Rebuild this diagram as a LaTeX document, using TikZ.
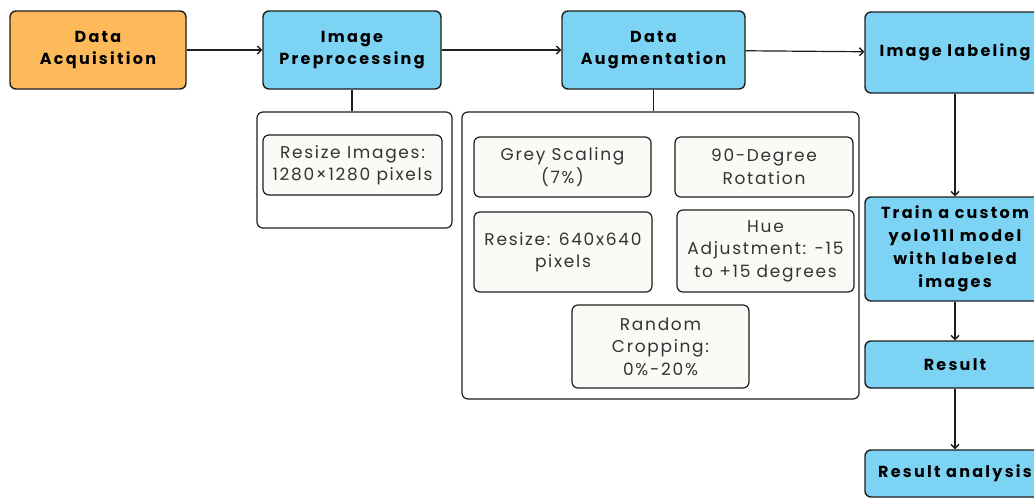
\documentclass[tikz,border=0pt]{standalone}
\usepackage{fontspec}
\setmainfont{Poppins}
\newfontfamily\headfont[LetterSpace=14]{Poppins}
\newfontfamily\optfont[LetterSpace=10]{Poppins}
\usetikzlibrary{arrows.meta}
\definecolor{acqorange}{HTML}{FDB95A}
\definecolor{stepblue}{HTML}{7DD3F4}
\definecolor{optfill}{HTML}{FBFAF6}
\definecolor{edgegrey}{HTML}{1E1E1E}

\begin{document}
\begin{tikzpicture}[x=1pt,y=-1pt]
         \tikzset{every node/.style={align=center,inner sep=0pt}}
         \tikzset{stage/.style={draw=edgegrey,line width=1.4pt,rounded corners=6pt,fill=stepblue,font=\headfont\bfseries\fontsize{16}{21.5}\selectfont}}
         \tikzset{group/.style={draw=edgegrey,line width=1.2pt,rounded corners=6pt}}
         \tikzset{option/.style={draw=edgegrey,line width=1.2pt,fill=optfill,rounded corners=6pt,text=black!80,font=\optfont\fontsize{17}{22.5}\selectfont}}
         \tikzset{flow/.style={draw=edgegrey,line width=1.2pt,-{Straight Barb[length=4pt,width=8pt,line width=1.4pt]}}}
         \tikzset{link/.style={draw=edgegrey,line width=1.2pt}}
         \useasboundingbox (0,0) rectangle (1034,498);
         \clip (0,0) rectangle (1034,498);
         % main stages
         \node[stage,fill=acqorange,minimum width=176,minimum height=78] (acq) at (98,50) {Data\\Acquisition};
         \node[stage,minimum width=178,minimum height=78] (prep) at (352,50) {Image\\Preprocessing};
         \node[stage,minimum width=183,minimum height=78] (aug) at (653.5,50) {Data\\Augmentation};
         \node[stage,minimum width=180,minimum height=81] (label) at (955,52.5) {Image labeling};
         \node[stage,minimum width=180,minimum height=104,font=\headfont\bfseries\fontsize{16}{23}\selectfont] (train) at (955,249) {Train a custom\\yolo11l model\\with labeled\\images};
         \node[stage,minimum width=180,minimum height=47] (result) at (955,364.5) {Result};
         \node[stage,minimum width=180,minimum height=47] (analysis) at (955,473.5) {Result analysis};
         % preprocessing details
         \node[group,minimum width=195,minimum height=116] (prepgrp) at (354.5,170) {};
         \node[option,minimum width=179,minimum height=60] (resizeA) at (352.5,165) {Resize Images:\\1280×1280 pixels};
         % augmentation details
         \node[group,minimum width=397,minimum height=287] (auggrp) at (660.5,255.5) {};
         \node[option,minimum width=177,minimum height=60] (grey) at (562.5,167) {Grey Scaling\\(7\%)};
         \node[option,minimum width=178,minimum height=60] (rot) at (764,167) {90-Degree\\Rotation};
         \node[option,minimum width=178,minimum height=80] (resizeB) at (563,252) {Resize: 640x640\\pixels};
         \node[option,minimum width=177,minimum height=82] (hue) at (765.5,251) {Hue\\Adjustment: -15\\to +15 degrees};
         \node[option,minimum width=177,minimum height=83] (crop) at (660.5,346.5) {Random\\Cropping:\\0\%-20\%};
         % connectors
         \draw[flow] (acq) -- (prep);
         \draw[flow] (prep) -- (aug);
         \draw[flow] (aug) -- (label);
         \draw[flow] (label) -- (train);
         \draw[flow] (train) -- (result);
         \draw[flow] (result) -- (analysis);
         \draw[link] (prep.south) -- (prep.south |- prepgrp.north);
         \draw[link] (aug.south) -- (aug.south |- auggrp.north);
\end{tikzpicture}
\end{document}
